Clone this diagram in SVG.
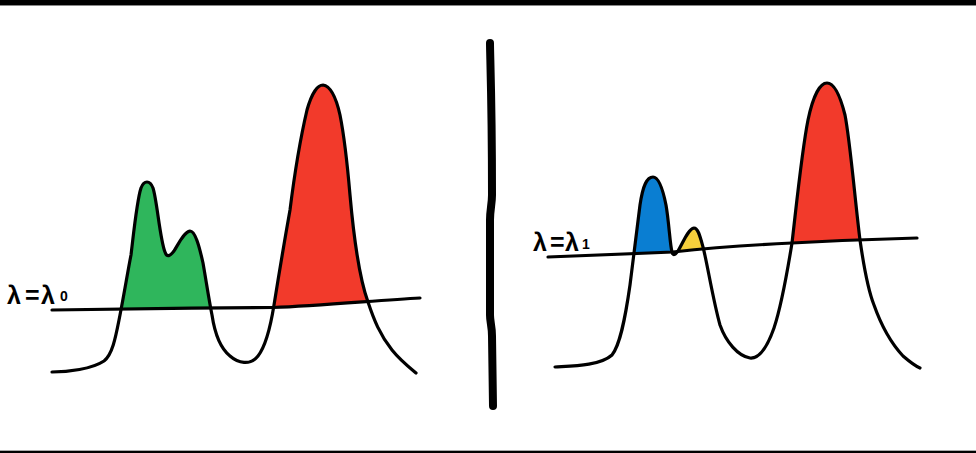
<svg xmlns="http://www.w3.org/2000/svg" width="976" height="453" viewBox="0 0 976 453">
<style>
.ink{fill:none;stroke:#000;stroke-width:3.2;stroke-linecap:round;stroke-linejoin:round}
.lbl{font-family:"Liberation Sans",Arial,sans-serif;font-size:25px;font-weight:bold;fill:#000}
.sub{font-size:14px}
</style>
<defs>
<clipPath id="aboveL"><path d="M52,310 C100,309 200,308 273,307.5 C320,306 380,300 420,298 L420,40 L52,40 Z"/></clipPath>
<clipPath id="aboveR"><path d="M548,257 C600,255 650,253 673,252 C700,249 750,245 792,243 C830,241 880,239 917,238 L917,40 L548,40 Z"/></clipPath>
</defs>
<rect x="0" y="0" width="976" height="5" fill="#000"/>
<rect x="0" y="5" width="976" height="1" fill="#888"/>
<rect x="0" y="450" width="976" height="1" fill="#aaa"/>
<rect x="0" y="451" width="976" height="2" fill="#000"/>

<g id="left-panel">
<g clip-path="url(#aboveL)">
<path fill="#2fb65c" d="M103,362 C112,355 116,335 120,315 C124,295 128,270 131,255 C134,230 137,200 141,188 C144,180 150,180 153,188 C157,200 160,240 165,252 C167,258 170,256 174,251 C179,243 184,232 190,231 C195,231 199,245 203,263 C206,280 209,300 212,315 C215,335 220,348 230,356 Z"/>
<path fill="#f23a2b" d="M258,356 C265,347 270,330 274,305 C278,280 282,255 290,210 C295,170 300,140 307,110 C312,92 318,85 323,85 C330,86 336,97 340,115 C344,135 347,160 350,195 C354,240 360,280 368,302 C374,320 380,335 392,350 Z"/>
</g>
<path class="ink" d="M52,310 C100,309 200,308 273,307.5 C320,306 380,300 420,298"/>
<path class="ink" d="M52,372 C68,372 92,369 104,361 C113,354 116,335 120,315 C124,295 128,270 131,255 C134,230 137,200 141,188 C144,180 150,180 153,188 C157,200 160,240 165,252 C167,258 170,256 174,251 C179,243 184,232 190,231 C195,231 199,245 203,263 C206,280 209,300 212,315 C215,335 220,348 230,356 C238,363 250,366 258,356 C265,347 270,330 274,305 C278,280 282,255 290,210 C295,170 300,140 307,110 C312,92 318,85 323,85 C330,86 336,97 340,115 C344,135 347,160 350,195 C354,240 360,280 368,302 C374,320 380,335 392,350 C400,360 410,368 416,373"/>
<text class="lbl" x="7" y="304">λ<tspan x="25">=</tspan><tspan x="41">λ</tspan><tspan class="sub" x="60" y="301">0</tspan></text>
</g>

<g id="divider">
<path d="M490,43 C490,55 492,100 492,195 C492,204 490,210 490,220 L490,315 C490,322 492,326 492,336 L493,406" fill="none" stroke="#000" stroke-width="8" stroke-linecap="round" stroke-linejoin="round"/>
</g>

<g id="right-panel">
<g clip-path="url(#aboveR)">
<path fill="#0a7ed2" d="M630,285 C633,262 636,235 640,205 C643,185 647,177 653,177 C659,177 663,190 666,205 C669,222 670,245 672,252 L673,262 L630,262 Z"/>
<path fill="#f6cf3c" d="M678,262 L678,251 C683,243 688,229 694,228 C698,228 700,236 703,247 C704,252 705,256 706,262 Z"/>
<path fill="#f23a2b" d="M774,328 C780,310 786,280 792,243 C797,200 802,150 808,120 C813,96 820,83 827,83 C834,83 840,95 845,115 C850,140 855,200 860,240 C864,268 868,290 874,305 Z"/>
</g>
<path class="ink" d="M548,257 C600,255 650,253 673,252 C700,249 750,245 792,243 C830,241 880,239 917,238"/>
<path class="ink" d="M555,367 C570,366 600,366 612,355 C620,345 625,320 630,285 C633,262 636,235 640,205 C643,185 647,177 653,177 C659,177 663,190 666,205 C669,222 670,245 672,252 C673,256 675,255 678,251 C683,243 688,229 694,228 C698,228 700,236 703,247 C707,262 713,300 720,325 C726,342 738,356 750,358 C760,359 768,345 774,328 C780,310 786,280 792,243 C797,200 802,150 808,120 C813,96 820,83 827,83 C834,83 840,95 845,115 C850,140 855,200 860,240 C864,268 868,290 874,305 C880,322 890,342 903,356 C910,362 915,366 920,368"/>
<text class="lbl" x="533" y="251">λ<tspan x="550">=</tspan><tspan x="565">λ</tspan><tspan class="sub" x="582" y="249">1</tspan></text>
</g>
</svg>
